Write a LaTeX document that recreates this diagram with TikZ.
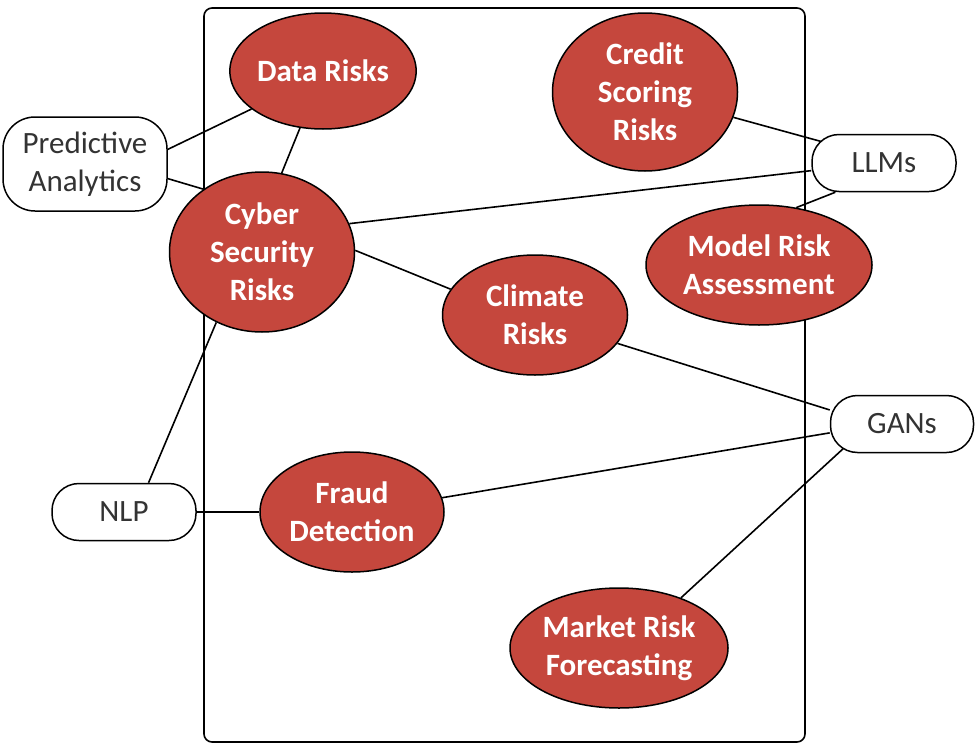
\documentclass[tikz,border=0pt]{standalone}
\usepackage{fontspec}
\setmainfont{Carlito}
\usetikzlibrary{shapes.geometric,backgrounds}

\definecolor{riskred}{HTML}{C5473D}
\definecolor{techgray}{HTML}{333333}

\tikzset{
  risk/.style={ellipse, draw=black, line width=1.5pt, fill=riskred, text=white,
    inner sep=0pt, align=center, font=\fontsize{31}{38}\selectfont\bfseries},
  tech/.style={rectangle, rounded corners=27pt, draw=black, line width=1.5pt, fill=white,
    text=techgray, inner sep=0pt, align=center, font=\fontsize{31}{38}\selectfont},
  link/.style={draw=black, line width=1.6pt}
}

\begin{document}
\begin{tikzpicture}[x=1pt, y=-1pt]
    \useasboundingbox (0,0) rectangle (979,744);

    % risk areas
    \node[risk, minimum width=186pt, minimum height=116pt] (dr) at (323,71) {Data Risks};
    \node[risk, minimum width=185pt, minimum height=158pt] (csr) at (645,92) {Credit\\Scoring\\Risks};
    \node[risk, minimum width=185pt, minimum height=160pt] (cyb) at (262,252) {Cyber\\Security\\Risks};
    \node[risk, minimum width=185pt, minimum height=120pt] (cl) at (535,315) {Climate\\Risks};
    \node[risk, minimum width=226pt, minimum height=120pt] (mra) at (759,265) {Model Risk\\Assessment};
    \node[risk, minimum width=184pt, minimum height=120pt] (fd) at (352,512) {Fraud\\Detection};
    \node[risk, minimum width=218pt, minimum height=120pt] (mrf) at (619,648) {Market Risk\\Forecasting};

    % techniques
    \node[tech, rounded corners=32pt, minimum width=164pt, minimum height=94pt] (pa) at (85,164) {Predictive\\Analytics};
    \node[tech, minimum width=144pt, minimum height=57pt] (llm) at (884,163) {LLMs};
    \node[tech, minimum width=144pt, minimum height=57pt] (nlp) at (124,512) {NLP};
    \node[tech, minimum width=143pt, minimum height=57pt] (gan) at (902,424) {GANs};

    \begin{scope}[on background layer]
      \draw[line width=1.6pt, rounded corners=8pt] (204,8) rectangle (805,742);

      \draw[link] (pa.10) -- (dr.208);
      \draw[link] (pa.-10) -- (cyb.133);
      \draw[link] (dr.248) -- (cyb.76);
      \draw[link] (cyb.237) -- (nlp.50);
      \draw[link] (cyb.18) -- (llm.186);
      \draw[link] (cyb.1) -- (cl.163);
      % ends on the rounded sides
      \draw[link] (csr.-16) -- ([shift={(-61,-21)}]llm.center);
      \draw[link] (llm.211) -- (mra.57);
      \draw[link] (cl.-19) -- (gan.169);
      \draw[link] (gan.187) -- (fd.9);
      \draw[link] ([shift={(-57,23)}]gan.center) -- (mrf.39);
      \draw[link] (nlp.east) -- (fd.west);
    \end{scope}
\end{tikzpicture}
\end{document}
